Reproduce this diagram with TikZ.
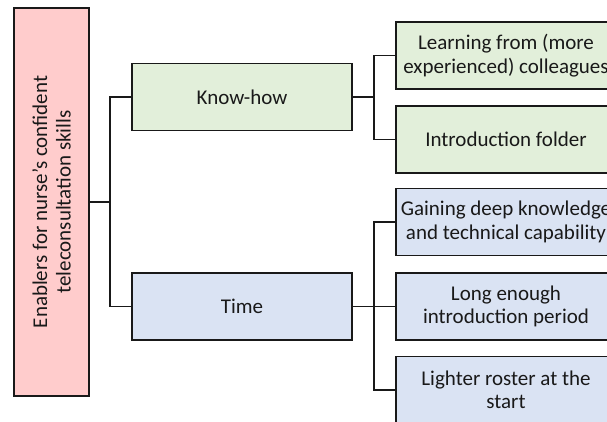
\documentclass[tikz,border=0pt]{standalone}
\usepackage{fontspec}
\setmainfont{Carlito}
\begin{document}
\begin{tikzpicture}[x=1pt,y=-1pt,
  txt/.style={font=\fontsize{21}{23.5}\selectfont, text=black!90},
  box/.style={draw=black!90, line width=1.7pt, align=center, inner sep=1pt, txt},
  rootbox/.style={box, fill=red!20, minimum width=75pt, minimum height=388pt},
  greenbox/.style={box, fill={rgb,255:red,226;green,239;blue,218}, minimum width=220pt, minimum height=67pt},
  bluebox/.style={box, fill={rgb,255:red,218;green,227;blue,243}, minimum width=220pt, minimum height=67pt},
  link/.style={line width=1.7pt, black!90}]
\useasboundingbox (0,0) rectangle (607,421);
\clip (0,0) rectangle (607,421);
\fill[white] (0,0) rectangle (607,421);

% root
\node[rootbox] (root) at (51.5,202) {};
\node[rotate=90, align=center, txt] (roottext) at (root.center)
  {Enablers for nurse's confident\\teleconsultation skills};

% second level
\node[greenbox] (kh) at (242,97) {Know-how};
\node[bluebox] (tm) at (242,306.5) {Time};

% leaves
\node[greenbox] (k1) at (506,55.5) {Learning from (more\\experienced) colleagues};
\node[greenbox] (k2) at (506,139.5) {Introduction folder};
\node[bluebox] (t1) at (506,222) {Gaining deep knowledge\\and technical capability};
\node[bluebox] (t2) at (506,306.5) {Long enough\\introduction period};
\node[bluebox] (t3) at (506,390) {Lighter roster at the\\start};

% junctions
\coordinate (j0) at (110,202);
\coordinate (j1) at (374,97);
\coordinate (j2) at (374,306.5);

% connectors
\draw[link] (root.east) -- (j0);
\draw[link] (kh.west) -| (j0 |- tm.west) -- (tm.west);
\draw[link] (kh.east) -- (j1);
\draw[link] (k1.west) -| (j1 |- k2.west) -- (k2.west);
\draw[link] (tm.east) -- (j2);
\draw[link] (t1.west) -| (j2 |- t3.west) -- (t3.west);
\draw[link] (j2) -- (t2.west);
\end{tikzpicture}
\end{document}
